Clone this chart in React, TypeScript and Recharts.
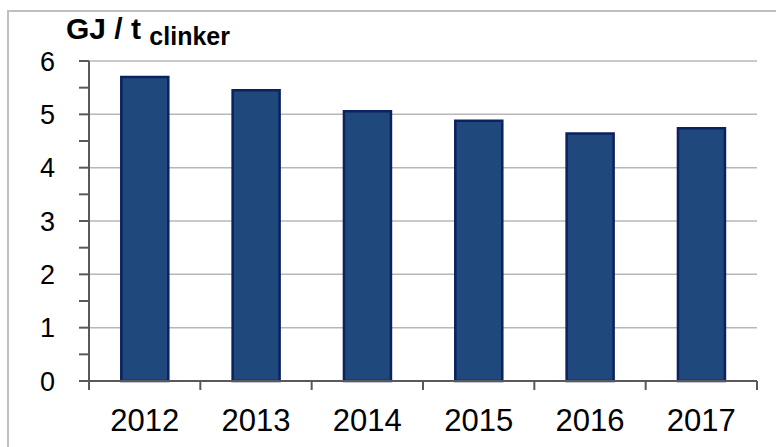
import { Bar, BarChart, CartesianGrid, XAxis, YAxis } from "recharts";

const years = ["2012", "2013", "2014", "2015", "2016", "2017"];
const energy = [5.7, 5.45, 5.06, 4.88, 4.64, 4.74];
const yTicks = [0, 0.5, 1, 1.5, 2, 2.5, 3, 3.5, 4, 4.5, 5, 5.5, 6];
const gridValues = [1, 2, 3, 4, 5, 6];

const data = years.map((year, i) => ({ year, value: energy[i] }));

const FONT = "'Liberation Sans', Arial, sans-serif";
const AXIS = "#595959";
const PLOT_W = 776 - 89 - 19;

const YTick = (props: any) => {
  const { x, y, payload } = props;
  if (!Number.isInteger(payload.value)) return null;
  return (
    <text x={x} y={y} dy={9.5} textAnchor="end" fontSize={27} fill="#000" fontFamily={FONT}>
      {payload.value}
    </text>
  );
};

// Excel-style ticks: lines sit between categories, labels in the middle
const XTick = (props: any) => {
  const { x, y, payload, index } = props;
  const band = PLOT_W / years.length;
  const axisY = y - 30;
  return (
    <g>
      <line x1={x - band / 2} x2={x - band / 2} y1={axisY} y2={axisY + 9} stroke={AXIS} strokeWidth={2} />
      {index === years.length - 1 && (
        <line x1={x + band / 2} x2={x + band / 2} y1={axisY} y2={axisY + 9} stroke={AXIS} strokeWidth={2} />
      )}
      <text x={x} y={y} dy={20} textAnchor="middle" fontSize={31} fill="#000" fontFamily={FONT}>
        {payload.value}
      </text>
    </g>
  );
};

export default function App() {
  return (
    <div style={{ position: "absolute", left: 0, top: 0, width: 776, height: 447, background: "#fff" }}>
      <div
        style={{
          position: "absolute",
          left: 7,
          top: 10,
          right: -2,
          bottom: -2,
          borderLeft: "2px solid #bfbfbf",
          borderTop: "2px solid #bfbfbf"
        }}
      />
      <div
        style={{
          position: "absolute",
          left: 66,
          top: 12,
          fontFamily: FONT,
          fontWeight: "bold",
          fontSize: 30,
          color: "#000",
          whiteSpace: "nowrap"
        }}
      >
        GJ / t <span style={{ fontSize: 25, position: "relative", top: 6 }}>clinker</span>
      </div>
      <div style={{ position: "absolute", left: 0, top: 0 }}>
        <BarChart
          width={776}
          height={447}
          data={data}
          margin={{ top: 61, right: 19, bottom: 0, left: 9 }}
          barCategoryGap="29%"
        >
          <CartesianGrid
            vertical={false}
            horizontalValues={gridValues}
            stroke="#b7b7b7"
            strokeWidth={1.5}
          />
          <XAxis
            dataKey="year"
            height={66}
            tickLine={false}
            axisLine={{ stroke: AXIS, strokeWidth: 2 }}
            tick={<XTick />}
            tickSize={0}
            tickMargin={30}
            interval={0}
          />
          <YAxis
            width={80}
            domain={[0, 6]}
            ticks={yTicks}
            interval={0}
            tickLine={{ stroke: AXIS, strokeWidth: 2 }}
            axisLine={{ stroke: AXIS, strokeWidth: 2 }}
            tickSize={10}
            tick={<YTick />}
            tickMargin={24}
          />
          <Bar
            dataKey="value"
            fill="#1f497d"
            stroke="#0b2160"
            strokeWidth={2.5}
            isAnimationActive={false}
          />
        </BarChart>
      </div>
    </div>
  );
}
